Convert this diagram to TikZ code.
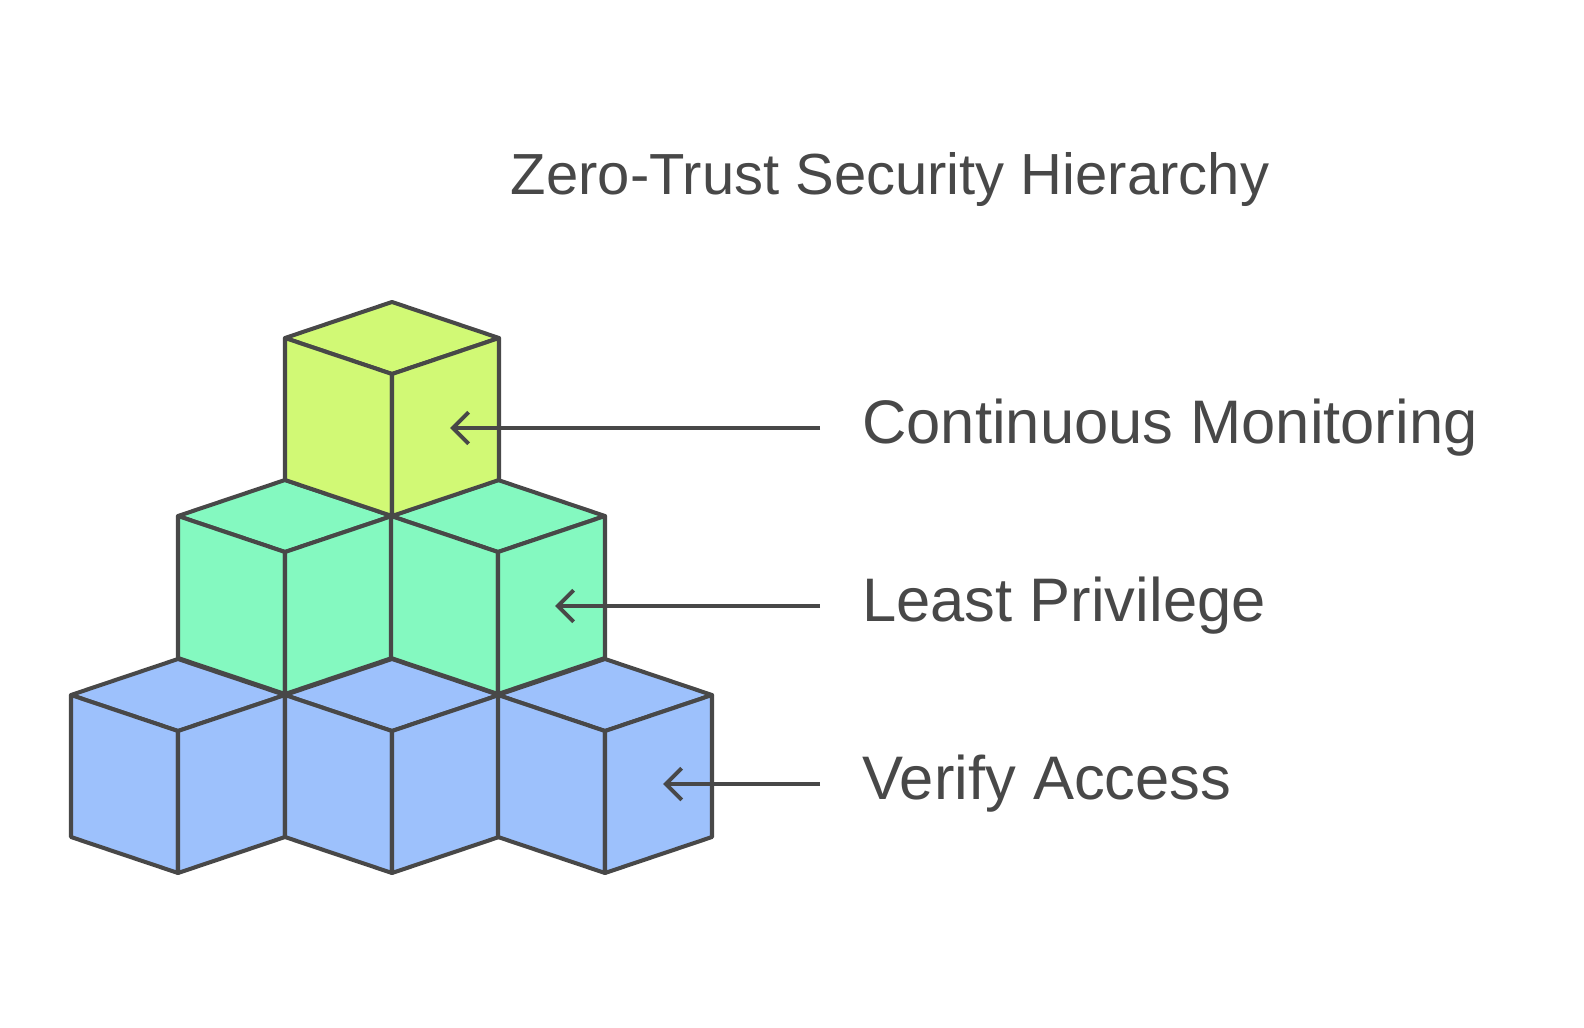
\documentclass[tikz,border=0pt]{standalone}
\usepackage{fontspec}
\setmainfont{Liberation Sans}
\usetikzlibrary{arrows.meta}
\definecolor{edge}{HTML}{484848}
\definecolor{topc}{HTML}{D1F975}
\definecolor{midc}{HTML}{84F9C0}
\definecolor{botc}{HTML}{9DC1FC}
\tikzset{
  face/.style={draw=edge, line width=2.3pt, line join=round},
  pointer/.style={draw=edge, line width=2.3pt, -{Straight Barb[length=9pt,width=18pt,line width=2.3pt]}},
  lbl/.style={anchor=west, text=edge, font=\fontsize{35}{40}\selectfont, inner sep=0pt}
}
% cube with top vertex at (#1,#2)
\newcommand{\cube}[3]{%
  \filldraw[face, fill=#3] (#1,#2) -- ++(-107,36) -- ++(107,36) -- ++(107,-36) -- cycle;
  \filldraw[face, fill=#3] (#1-107,#2+36) -- ++(0,142) -- ++(107,36) -- ++(0,-142) -- cycle;
  \filldraw[face, fill=#3] (#1+107,#2+36) -- ++(0,142) -- ++(-107,36) -- ++(0,-142) -- cycle;
}
\begin{document}
\begin{tikzpicture}[x=0.02cm, y=-0.02cm]
    \useasboundingbox (0,0) rectangle (1584,1027);

    \node[text=edge, font=\fontsize{33}{38}\selectfont] (title) at (890,180) {Zero-Trust Security Hierarchy};

    % bottom row
    \foreach \cx in {178,392,605} {\cube{\cx}{659}{botc}}
    % middle row
    \foreach \cx in {285,498} {\cube{\cx}{480}{midc}}
    % top
    \cube{392}{302}{topc}

    \node[lbl] (cm) at (862,428) {Continuous Monitoring};
    \node[lbl] (lp) at (862,606) {Least Privilege};
    \node[lbl] (va) at (862,784) {Verify Access};

    \coordinate (cm-tip) at (450,0);
    \coordinate (lp-tip) at (555,0);
    \coordinate (va-tip) at (663,0);

    \draw[pointer] ([xshift=-42*0.02cm]cm.west) -- (cm.west -| cm-tip);
    \draw[pointer] ([xshift=-42*0.02cm]lp.west) -- (lp.west -| lp-tip);
    \draw[pointer] ([xshift=-42*0.02cm]va.west) -- (va.west -| va-tip);
\end{tikzpicture}
\end{document}
